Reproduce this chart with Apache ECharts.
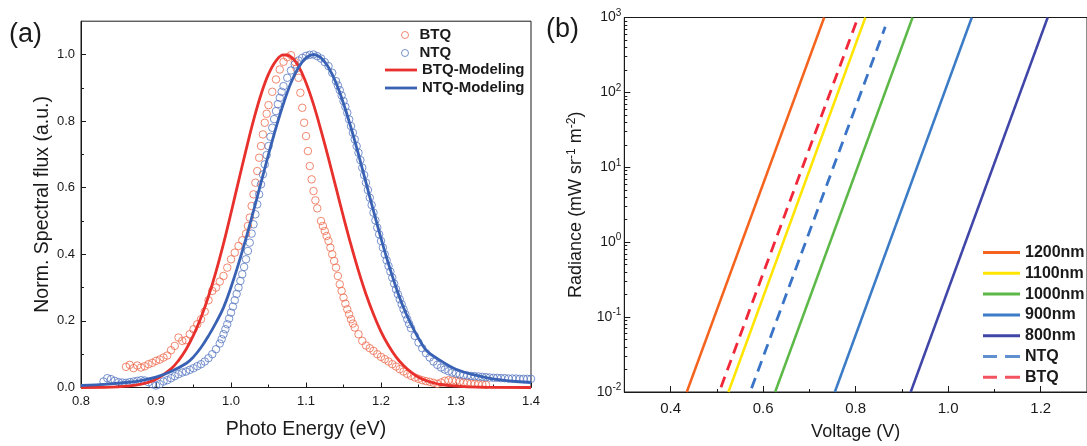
<!DOCTYPE html>
<html><head><meta charset="utf-8">
<script src="https://cdn.jsdelivr.net/npm/echarts@6/dist/echarts.min.js"></script>
<style>html,body{margin:0;padding:0;background:#fff}#c{width:1087px;height:446px}</style>
</head><body><div id="c"></div>
<script>
// ---------- Panel (a): normalized spectral flux ----------
const btqEnergy = [0.860,0.865,0.870,0.875,0.880,0.885,0.890,0.895,0.900,0.905,0.910,0.915,0.920,0.925,0.930,0.935,0.940,0.945,0.950,0.955,0.960,0.965,0.970,0.975,0.980,0.985,0.990,0.995,1.000,1.005,1.010,1.015,1.020,1.0225,1.025,1.0275,1.030,1.0325,1.035,1.0375,1.040,1.0425,1.045,1.0475,1.050,1.055,1.060,1.065,1.070,1.075,1.080,1.085,1.0875,1.090,1.0925,1.095,1.0975,1.100,1.1025,1.105,1.1075,1.110,1.1125,1.115,1.120,1.1225,1.125,1.1275,1.130,1.1325,1.135,1.1375,1.140,1.1425,1.145,1.1475,1.150,1.1525,1.155,1.1575,1.160,1.1625,1.165,1.170,1.175,1.180,1.185,1.190,1.195,1.200,1.205,1.210,1.215,1.220,1.225,1.230,1.235,1.240,1.245,1.250,1.255,1.260,1.265,1.270,1.275,1.280,1.285,1.290,1.295,1.300,1.305,1.310,1.315,1.320,1.325,1.330,1.335,1.340];
const btqFlux = [0.062,0.068,0.058,0.066,0.060,0.064,0.070,0.074,0.080,0.084,0.090,0.096,0.112,0.125,0.150,0.140,0.142,0.160,0.175,0.190,0.205,0.228,0.262,0.290,0.300,0.318,0.335,0.360,0.385,0.405,0.425,0.442,0.462,0.485,0.510,0.545,0.580,0.615,0.650,0.690,0.725,0.760,0.795,0.822,0.848,0.888,0.925,0.955,0.978,0.992,0.998,0.978,0.958,0.930,0.885,0.840,0.795,0.755,0.710,0.665,0.625,0.590,0.562,0.538,0.500,0.485,0.470,0.455,0.440,0.420,0.400,0.380,0.360,0.335,0.310,0.290,0.270,0.252,0.235,0.220,0.205,0.192,0.180,0.160,0.140,0.126,0.118,0.110,0.100,0.092,0.085,0.078,0.070,0.063,0.055,0.048,0.041,0.035,0.030,0.026,0.022,0.019,0.017,0.014,0.011,0.015,0.020,0.022,0.021,0.020,0.018,0.015,0.014,0.012,0.011,0.010,0.009,0.008];

const ntqEnergy = [0.830,0.835,0.840,0.845,0.850,0.855,0.860,0.865,0.870,0.875,0.880,0.885,0.890,0.895,0.900,0.905,0.910,0.915,0.920,0.925,0.930,0.935,0.940,0.945,0.950,0.955,0.960,0.965,0.970,0.975,0.980,0.985,0.9875,0.990,0.9925,0.995,0.9975,1.000,1.0025,1.005,1.0075,1.010,1.0125,1.015,1.0175,1.020,1.0225,1.025,1.0275,1.030,1.0325,1.035,1.0375,1.040,1.0425,1.045,1.0475,1.050,1.0525,1.055,1.0575,1.060,1.0625,1.065,1.0675,1.070,1.075,1.080,1.085,1.090,1.095,1.100,1.105,1.110,1.115,1.120,1.125,1.130,1.135,1.140,1.1425,1.145,1.1475,1.150,1.1525,1.155,1.1575,1.160,1.1625,1.165,1.1675,1.170,1.1725,1.175,1.1775,1.180,1.1825,1.185,1.1875,1.190,1.1925,1.195,1.1975,1.200,1.2025,1.205,1.2075,1.210,1.2125,1.215,1.2175,1.220,1.2225,1.225,1.2275,1.230,1.2325,1.235,1.2375,1.240,1.245,1.250,1.255,1.260,1.265,1.270,1.275,1.280,1.285,1.290,1.295,1.300,1.305,1.310,1.315,1.320,1.325,1.330,1.335,1.340,1.345,1.350,1.355,1.360,1.365,1.370,1.375,1.380,1.385,1.390,1.395,1.400];
const ntqFlux = [0.018,0.028,0.025,0.020,0.016,0.015,0.014,0.016,0.018,0.020,0.022,0.021,0.016,0.010,0.006,0.010,0.018,0.022,0.028,0.034,0.040,0.045,0.048,0.053,0.058,0.064,0.070,0.078,0.088,0.100,0.115,0.132,0.145,0.160,0.175,0.190,0.207,0.225,0.243,0.262,0.281,0.300,0.320,0.340,0.362,0.385,0.410,0.435,0.462,0.490,0.520,0.550,0.580,0.610,0.640,0.670,0.698,0.725,0.753,0.780,0.806,0.830,0.851,0.870,0.888,0.905,0.930,0.952,0.970,0.982,0.990,0.996,0.999,1.000,0.995,0.988,0.977,0.965,0.945,0.920,0.907,0.893,0.877,0.860,0.843,0.825,0.805,0.785,0.765,0.745,0.725,0.705,0.683,0.660,0.638,0.615,0.593,0.570,0.548,0.525,0.502,0.480,0.460,0.440,0.420,0.400,0.382,0.365,0.348,0.330,0.312,0.295,0.280,0.265,0.250,0.235,0.220,0.205,0.191,0.178,0.155,0.135,0.118,0.103,0.090,0.078,0.068,0.060,0.054,0.049,0.045,0.042,0.039,0.037,0.036,0.035,0.034,0.033,0.032,0.031,0.030,0.029,0.029,0.028,0.028,0.027,0.027,0.027,0.026,0.026,0.026,0.026];

const btqModelEnergy = [0.80,0.84,0.86,0.88,0.90,0.92,0.93,0.94,0.95,0.96,0.97,0.98,0.99,1.00,1.01,1.02,1.03,1.04,1.05,1.06,1.07,1.08,1.09,1.10,1.11,1.12,1.13,1.14,1.15,1.16,1.17,1.18,1.19,1.20,1.21,1.22,1.23,1.24,1.25,1.26,1.27,1.28,1.30,1.33,1.40];
const btqModelFlux = [0.000,0.001,0.004,0.010,0.025,0.056,0.081,0.114,0.157,0.210,0.274,0.348,0.432,0.524,0.619,0.713,0.802,0.880,0.941,0.981,0.999,0.993,0.965,0.915,0.850,0.772,0.688,0.600,0.512,0.428,0.350,0.280,0.220,0.168,0.126,0.092,0.066,0.046,0.031,0.021,0.014,0.009,0.004,0.001,0.000];

const ntqModelEnergy = [0.80,0.82,0.84,0.86,0.88,0.90,0.92,0.94,0.95,0.96,0.97,0.98,0.99,1.00,1.01,1.02,1.03,1.04,1.05,1.06,1.07,1.08,1.09,1.10,1.11,1.12,1.13,1.14,1.15,1.16,1.17,1.18,1.19,1.20,1.21,1.22,1.23,1.24,1.25,1.26,1.27,1.28,1.29,1.30,1.32,1.34,1.36,1.38,1.40];
const ntqModelFlux = [0.006,0.008,0.011,0.015,0.021,0.031,0.048,0.072,0.092,0.120,0.155,0.195,0.240,0.301,0.371,0.448,0.530,0.615,0.700,0.780,0.853,0.915,0.961,0.990,1.000,0.990,0.961,0.915,0.853,0.780,0.700,0.615,0.530,0.448,0.371,0.301,0.240,0.190,0.148,0.112,0.094,0.080,0.066,0.055,0.040,0.030,0.023,0.018,0.015];

const fluxTicks = [0, 0.2, 0.4, 0.6, 0.8, 1.0];
const fluxMinorTicks = [0.1, 0.3, 0.5, 0.7, 0.9];

// ---------- Panel (b): radiance vs voltage ----------
const lineNames = ['1200nm', '1100nm', '1000nm', '900nm', '800nm', 'NTQ', 'BTQ'];
const lineColors = ['#F5641E', '#FFE500', '#5DB947', '#3C7CC6', '#4046A8', '#3A74C6', '#F0283A'];
const v1200 = [0.435, 0.732], r1200 = [0.01, 1000];
const v1100 = [0.525, 0.821], r1100 = [0.01, 1000];
const v1000 = [0.626, 0.923], r1000 = [0.01, 1000];
const v900  = [0.755, 1.051], r900  = [0.01, 1000];
const v800  = [0.919, 1.215], r800  = [0.01, 1000];
const vNTQ  = [0.575, 0.864], rNTQ  = [0.0112, 750];
const vBTQ  = [0.509, 0.805], rBTQ  = [0.0116, 1000];

const voltTicks = [0.4, 0.6, 0.8, 1.0, 1.2];
const voltMinorTicks = [0.3, 0.5, 0.7, 0.9, 1.1, 1.3];
const radTicks = [0.01, 0.1, 1, 10, 100, 1000];
const radMinorTicks = [0.02,0.03,0.04,0.05,0.06,0.07,0.08,0.09,0.2,0.3,0.4,0.5,0.6,0.7,0.8,0.9,2,3,4,5,6,7,8,9,20,30,40,50,60,70,80,90,200,300,400,500,600,700,800,900];

const zip = (xs, ys) => xs.map((x, i) => [x, ys[i]]);

const INK = '#1a1a1a';
const FONT = '"Liberation Sans", Arial, Helvetica, sans-serif';
const RED_PT = '#EE6A4E', BLUE_PT = '#5677C0';
const RED_LN = '#E8302C', BLUE_LN = '#3A62B4';
const DASH_ICON = 'path://M0,0h14v3h-14z M22,0h15v3h-15z';

const tickLine = { color: INK, width: 1 };
const rightSeriesData = [[v1200, r1200], [v1100, r1100], [v1000, r1000], [v900, r900], [v800, r800], [vNTQ, rNTQ], [vBTQ, rBTQ]];

const chart = echarts.init(document.getElementById('c'), null, { renderer: 'canvas' });
chart.setOption({
  animation: false,
  backgroundColor: '#fff',
  textStyle: { fontFamily: FONT },
  title: [
    { text: '(a)', left: 9, top: 21, padding: 0, textStyle: { fontSize: 27, fontWeight: 'normal', color: INK, fontFamily: FONT } },
    { text: '(b)', left: 546, top: 16, padding: 0, textStyle: { fontSize: 27, fontWeight: 'normal', color: INK, fontFamily: FONT } }
  ],
  grid: [
    { left: 81, top: 21.2, width: 450, height: 366.3, show: true, borderColor: INK, borderWidth: 1, backgroundColor: 'transparent' },
    { left: 624.3, top: 17.5, width: 467.5, height: 377.5, show: true, borderColor: INK, borderWidth: 1, backgroundColor: 'transparent' }
  ],
  legend: [
    { data: [
        { name: 'BTQ', icon: 'circle', itemStyle: { color: 'rgba(0,0,0,0)', borderColor: RED_PT, borderWidth: 1 } },
        { name: 'NTQ', icon: 'circle', itemStyle: { color: 'rgba(0,0,0,0)', borderColor: BLUE_PT, borderWidth: 1 } }
      ],
      left: 401, top: 27.5, orient: 'vertical', padding: 0, itemWidth: 19, itemHeight: 7, itemGap: 3,
      selectedMode: false,
      textStyle: { fontSize: 15, fontWeight: 'bold', color: INK, lineHeight: 15, fontFamily: FONT } },
    { data: [
        { name: 'BTQ-Modeling', icon: 'rect', itemStyle: { color: RED_LN, borderWidth: 0 } },
        { name: 'NTQ-Modeling', icon: 'rect', itemStyle: { color: BLUE_LN, borderWidth: 0 } }
      ],
      left: 385, top: 62.5, orient: 'vertical', padding: 0, itemWidth: 32, itemHeight: 2.8, itemGap: 3,
      selectedMode: false,
      textStyle: { fontSize: 15, fontWeight: 'bold', color: INK, lineHeight: 15, fontFamily: FONT } },
    { data: lineNames.map((n, i) => ({ name: n, icon: i >= 5 ? DASH_ICON : 'rect',
        itemStyle: { color: lineColors[i], borderWidth: 0 } })),
      left: 983, top: 244.5, orient: 'vertical', padding: 0, itemWidth: 37, itemHeight: 3, itemGap: 4.8,
      selectedMode: false,
      textStyle: { fontSize: 16, fontWeight: 'bold', color: INK, lineHeight: 16, fontFamily: FONT } }
  ],
  xAxis: [
    { type: 'value', gridIndex: 0, min: 0.8, max: 1.4, interval: 0.1, position: 'bottom',
      axisLine: { show: true, lineStyle: tickLine },
      axisTick: { show: true, inside: true, length: 5, lineStyle: tickLine },
      minorTick: { show: true, splitNumber: 2, length: 3, lineStyle: tickLine },
      axisLabel: { fontSize: 13, color: INK, margin: 7, formatter: v => v.toFixed(1) },
      splitLine: { show: false }, minorSplitLine: { show: false },
      name: 'Photo Energy (eV)', nameLocation: 'middle', nameGap: 32,
      nameTextStyle: { fontSize: 19.5, color: INK } },
    { type: 'value', gridIndex: 1, min: 0.3, max: 1.3, position: 'bottom',
      axisLine: { show: true, lineStyle: tickLine },
      axisTick: { show: true, inside: true, length: 6, lineStyle: tickLine, customValues: voltTicks },
      axisLabel: { fontSize: 15, color: INK, margin: 9, customValues: voltTicks, formatter: v => v.toFixed(1) },
      splitLine: { show: false },
      name: 'Voltage (V)', nameLocation: 'middle', nameGap: 31,
      nameTextStyle: { fontSize: 18, color: INK } },
    { type: 'value', gridIndex: 1, min: 0.3, max: 1.3, position: 'bottom',
      axisLine: { show: false },
      axisTick: { show: true, inside: true, length: 3, lineStyle: tickLine, customValues: voltMinorTicks },
      axisLabel: { show: false }, splitLine: { show: false } }
  ],
  yAxis: [
    { type: 'value', gridIndex: 0, min: 0, max: 1.1, position: 'left',
      axisLine: { show: true, lineStyle: tickLine },
      axisTick: { show: true, inside: true, length: 5, lineStyle: tickLine, customValues: fluxTicks },
      axisLabel: { fontSize: 13, color: INK, margin: 6, customValues: fluxTicks, formatter: v => v.toFixed(1) },
      splitLine: { show: false },
      name: 'Norm. Spectral flux (a.u.)', nameLocation: 'middle', nameGap: 28,
      nameTextStyle: { fontSize: 19.5, color: INK } },
    { type: 'value', gridIndex: 0, min: 0, max: 1.1, position: 'left',
      axisLine: { show: false },
      axisTick: { show: true, inside: true, length: 3, lineStyle: tickLine, customValues: fluxMinorTicks },
      axisLabel: { show: false }, splitLine: { show: false } },
    { type: 'log', logBase: 10, gridIndex: 1, min: 0.01, max: 1000, position: 'left',
      axisLine: { show: true, lineStyle: tickLine },
      axisTick: { show: true, inside: true, length: 6, lineStyle: tickLine, customValues: radTicks },
      axisLabel: { color: INK, margin: 3, customValues: radTicks,
        formatter: v => '{b|10}{s|' + Math.round(Math.log10(v)) + '}',
        rich: { b: { fontSize: 14, color: INK, fontFamily: FONT }, s: { fontSize: 10, color: INK, padding: [0, 0, 9, 0], fontFamily: FONT } } },
      splitLine: { show: false },
      name: 'Radiance (mW sr{s|-1} m{s|-2})', nameLocation: 'middle', nameGap: 37,
      nameTextStyle: { fontSize: 18, color: INK, rich: { s: { fontSize: 12, color: INK, padding: [0, 0, 10, 0], fontFamily: FONT } } } },
    { type: 'log', logBase: 10, gridIndex: 1, min: 0.01, max: 1000, position: 'left',
      axisLine: { show: false },
      axisTick: { show: true, inside: true, length: 3, lineStyle: tickLine, customValues: radMinorTicks },
      axisLabel: { show: false }, splitLine: { show: false } }
  ],
  series: [
    { name: 'BTQ', type: 'scatter', xAxisIndex: 0, yAxisIndex: 0, data: zip(btqEnergy, btqFlux),
      symbol: 'circle', symbolSize: 7.5, clip: true,
      itemStyle: { color: 'rgba(0,0,0,0)', borderColor: RED_PT, borderWidth: 1 } },
    { name: 'NTQ', type: 'scatter', xAxisIndex: 0, yAxisIndex: 0, data: zip(ntqEnergy, ntqFlux),
      symbol: 'circle', symbolSize: 7.5, clip: true,
      itemStyle: { color: 'rgba(0,0,0,0)', borderColor: BLUE_PT, borderWidth: 1 } },
    { name: 'BTQ-Modeling', type: 'line', xAxisIndex: 0, yAxisIndex: 0, data: zip(btqModelEnergy, btqModelFlux),
      symbol: 'none', smooth: 0.4, clip: true, lineStyle: { color: RED_LN, width: 2.8 }, itemStyle: { color: RED_LN } },
    { name: 'NTQ-Modeling', type: 'line', xAxisIndex: 0, yAxisIndex: 0, data: zip(ntqModelEnergy, ntqModelFlux),
      symbol: 'none', smooth: 0.4, clip: true, lineStyle: { color: BLUE_LN, width: 2.8 }, itemStyle: { color: BLUE_LN } }
  ].concat(lineNames.map((n, i) => ({
      name: n, type: 'line', xAxisIndex: 1, yAxisIndex: 2,
      data: zip(rightSeriesData[i][0], rightSeriesData[i][1]), symbol: 'none', clip: true,
      lineStyle: i >= 5 ? { color: lineColors[i], width: 2.8, type: [11, 7] } : { color: lineColors[i], width: 2.5 },
      itemStyle: { color: lineColors[i] }
  })))
});
</script>
</body></html>
